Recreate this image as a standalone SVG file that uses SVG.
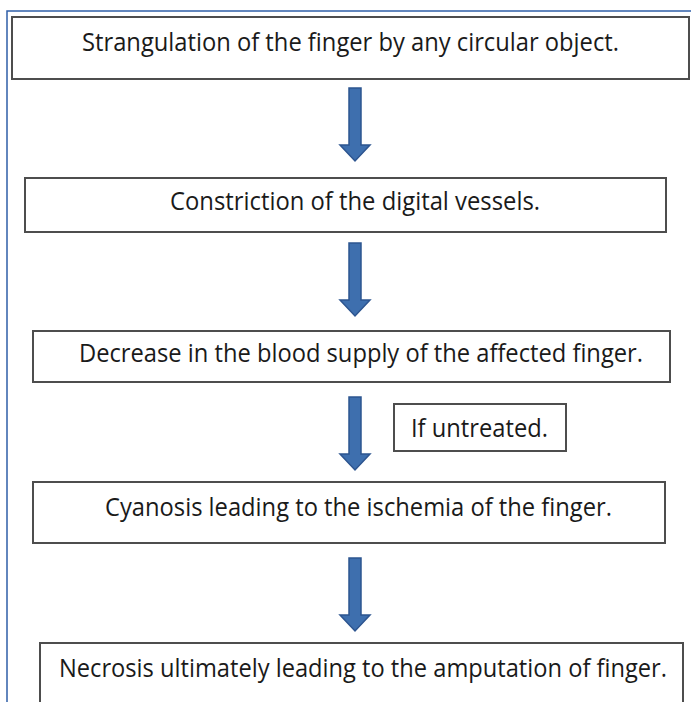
<svg xmlns="http://www.w3.org/2000/svg" width="691" height="702" viewBox="0 0 691 702">
<defs>
<style>
.box{fill:#fff;stroke:#4d4d4d;stroke-width:2}
.t{font-family:"Open Sans","Liberation Sans",sans-serif;font-size:25px;fill:#1a1a1a;}
.arr{fill:#3e6fae;stroke:#2d5590;stroke-width:1.5;stroke-linejoin:miter}
</style>
<path id="arrow" class="arr" d="M-6,0 H6 V57 H15 L0,73 L-15,57 H-6 Z"/>
</defs>
<rect width="691" height="702" fill="#fff"/>
<path d="M7,702 V11 H691" fill="none" stroke="#2f5fa8" stroke-width="1.5"/>
<g id="connectors">
<use href="#arrow" x="355" y="88"/>
<use href="#arrow" x="355" y="243"/>
<use href="#arrow" x="355" y="397"/>
<use href="#arrow" x="355" y="558"/>
</g>
<g id="n1"><rect class="box" x="12" y="17" width="677" height="62"/>
<text class="t" x="82" y="51" textLength="537" lengthAdjust="spacingAndGlyphs">Strangulation of the finger by any circular object.</text></g>
<g id="n2"><rect class="box" x="25" y="178" width="641" height="54"/>
<text class="t" x="170" y="210" textLength="370" lengthAdjust="spacingAndGlyphs">Constriction of the digital vessels.</text></g>
<g id="n3"><rect class="box" x="33" y="331" width="637" height="51"/>
<text class="t" x="79" y="362" textLength="564" lengthAdjust="spacingAndGlyphs">Decrease in the blood supply of the affected finger.</text></g>
<g id="n_if"><rect class="box" x="394" y="404" width="172" height="47"/>
<text class="t" x="411" y="437" textLength="137" lengthAdjust="spacingAndGlyphs">If untreated.</text></g>
<g id="n4"><rect class="box" x="33" y="482" width="632" height="61"/>
<text class="t" x="105" y="516" textLength="507" lengthAdjust="spacingAndGlyphs">Cyanosis leading to the ischemia of the finger.</text></g>
<g id="n5"><path class="box" d="M40,702 V643 H683 V702"/>
<text class="t" x="59" y="677" textLength="608" lengthAdjust="spacingAndGlyphs">Necrosis ultimately leading to the amputation of finger.</text></g>
</svg>
